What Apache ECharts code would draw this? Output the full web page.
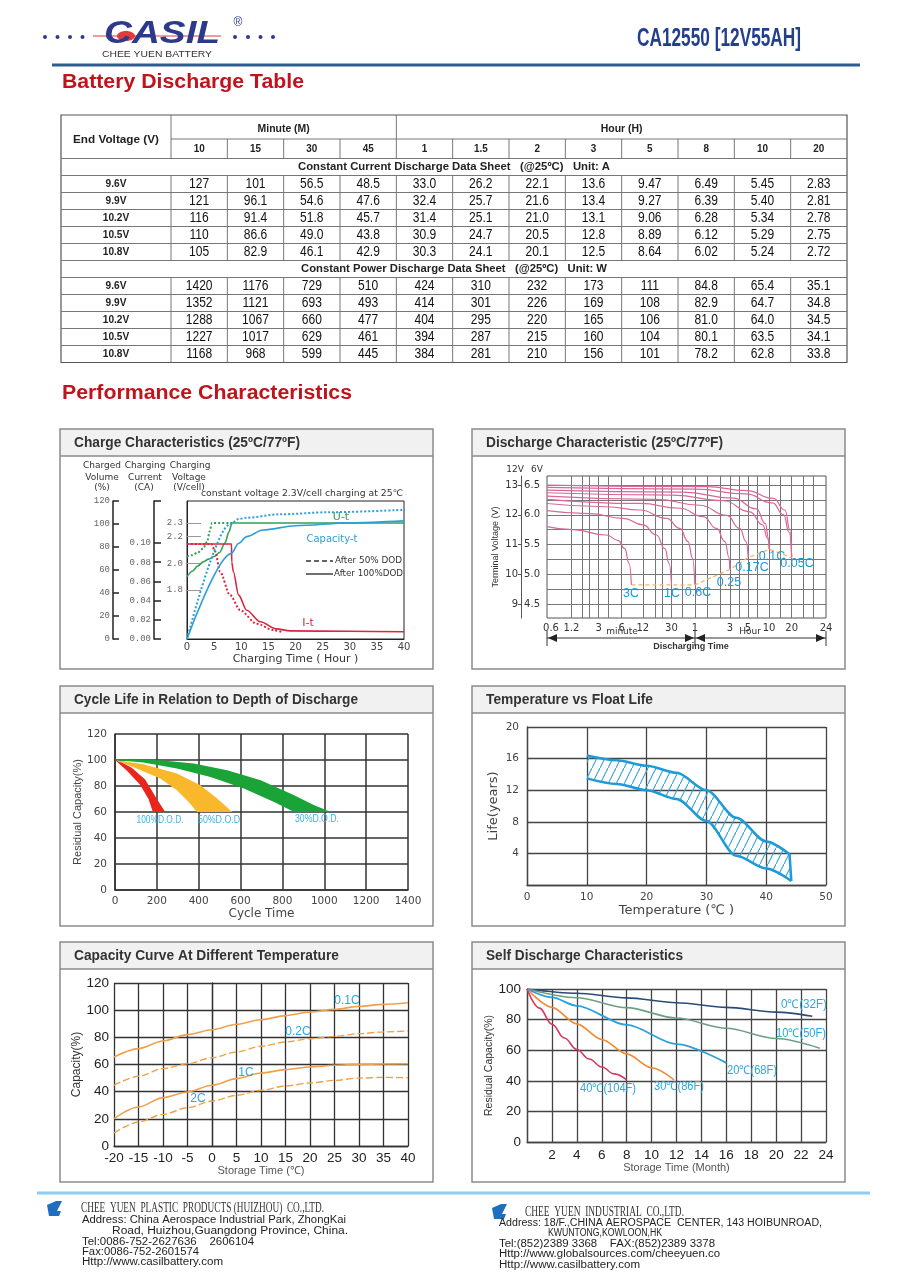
<!DOCTYPE html>
<html>
<head>
<meta charset="utf-8">
<script src="https://cdn.jsdelivr.net/npm/echarts@6/dist/echarts.min.js"></script>
<style>
  html, body { margin: 0; padding: 0; background: #fff; }
  #main { width: 905px; height: 1280px; }
</style>
</head>
<body>
<div id="main"></div>
<script>
// ---------- discharge table ----------
const endVoltages = ['9.6V', '9.9V', '10.2V', '10.5V', '10.8V'];
const minuteCols = ['10', '15', '30', '45'];
const hourCols = ['1', '1.5', '2', '3', '5', '8', '10', '20'];
const currentRows = [
  ['127', '101', '56.5', '48.5', '33.0', '26.2', '22.1', '13.6', '9.47', '6.49', '5.45', '2.83'],
  ['121', '96.1', '54.6', '47.6', '32.4', '25.7', '21.6', '13.4', '9.27', '6.39', '5.40', '2.81'],
  ['116', '91.4', '51.8', '45.7', '31.4', '25.1', '21.0', '13.1', '9.06', '6.28', '5.34', '2.78'],
  ['110', '86.6', '49.0', '43.8', '30.9', '24.7', '20.5', '12.8', '8.89', '6.12', '5.29', '2.75'],
  ['105', '82.9', '46.1', '42.9', '30.3', '24.1', '20.1', '12.5', '8.64', '6.02', '5.24', '2.72']
];
const powerRows = [
  ['1420', '1176', '729', '510', '424', '310', '232', '173', '111', '84.8', '65.4', '35.1'],
  ['1352', '1121', '693', '493', '414', '301', '226', '169', '108', '82.9', '64.7', '34.8'],
  ['1288', '1067', '660', '477', '404', '295', '220', '165', '106', '81.0', '64.0', '34.5'],
  ['1227', '1017', '629', '461', '394', '287', '215', '160', '104', '80.1', '63.5', '34.1'],
  ['1168', '968', '599', '445', '384', '281', '210', '156', '101', '78.2', '62.8', '33.8']
];

// ---------- charge characteristics (hour, value) ----------
const chgVoltTicks = [1.8, 2.0, 2.2, 2.3];
const chgCurrTicks = [0, 0.02, 0.04, 0.06, 0.08, 0.10];
const chargeVolt100 = [[0, 1.9], [1, 1.94], [2, 1.98], [3, 2.01], [4, 2.03], [5, 2.05], [6, 2.08], [7, 2.15], [7.7, 2.23], [8.3, 2.3], [40, 2.3]];
const chargeVolt50 = [[0, 2.05], [1, 2.06], [2, 2.08], [3, 2.11], [3.7, 2.16], [4.2, 2.24], [4.6, 2.3], [8.3, 2.3]];
const chargeCurr100 = [[0, 0.099], [8.2, 0.099], [8.25, 0.08], [8.55, 0.07], [9.5, 0.046], [11, 0.03], [13.5, 0.018], [16.5, 0.0105], [19, 0.0085], [30, 0.008], [40, 0.0075]];
const chargeCurr50 = [[0, 0.099], [4.5, 0.099], [5.2, 0.091], [6.1, 0.07], [7.9, 0.046], [9.8, 0.03], [12.8, 0.016], [15.9, 0.0094], [17.5, 0.0072]];
const chargeCap100 = [[0, 0], [8.2, 74.5], [9.5, 83], [11, 89], [14, 94.8], [20, 98.5], [30, 101], [40, 102.7]];
const chargeCap50 = [[0, 0], [7.9, 99.7], [9.5, 104.3], [11, 105.5], [17, 108.4], [26, 110.2], [40, 112.3]];

// ---------- discharge characteristic (minutes on the sheet's pseudo-log axis, V per 6V) ----------
const dcTickAt = [0.6, 1.15, 2.75, 5.7, 11.2, 28, 59, 180, 322, 628, 1295, 3870];
const dcTickText = ['0.6', '1.2', '3', '6', '12', '30', '1', '3', '5', '10', '20', '24'];
const dcGridAt = [1.15, 1.6, 2, 2.75, 3.7, 5.7, 11.2, 16.5, 21, 28, 40, 59, 89, 131, 180, 247, 322, 425, 628, 887, 1295, 1854, 2560];
const dc3C = [[0.528, 5.8], [1.21, 5.75], [3.51, 5.66], [5.1, 5.57], [6.31, 5.43], [7.25, 5.18], [7.8, 4.82]];
const dc1C = [[0.528, 6.07], [2.06, 6.02], [5.98, 5.94], [11.3, 5.83], [17.3, 5.66], [22.7, 5.43], [26, 5.18], [28, 4.82]];
const dc06C = [[0.528, 6.19], [3.51, 6.135], [10.2, 6.08], [23.9, 5.94], [36.6, 5.77], [47.5, 5.55], [54.8, 5.27], [59, 4.82]];
const dc025C = [[0.528, 6.26], [10.2, 6.19], [36.6, 6.11], [77, 5.97], [118, 5.77], [154, 5.55], [175, 5.29], [180, 5.08]];
const dc017C = [[0.528, 6.315], [17.3, 6.26], [69, 6.16], [162.6, 5.99], [248, 5.77], [301, 5.55], [324, 5.28]];
const dc01C = [[0.528, 6.37], [29.5, 6.33], [146, 6.236], [342, 6.05], [513, 5.83], [601, 5.6], [634, 5.42]];
const dc01Cb = [[0.528, 6.416], [40, 6.38], [200, 6.28], [420, 6.1], [560, 5.85], [620, 5.6], [634, 5.42]];
const dc005C = [[0.528, 6.5], [86, 6.472], [308, 6.405], [719, 6.275], [1045, 6.08], [1228, 5.74], [1295, 5.28]];
const dc005Cb = [[0.528, 6.46], [60, 6.43], [300, 6.35], [700, 6.2], [1000, 6.0], [1200, 5.7], [1295, 5.28]];
const dcCutoff = [[7.8, 4.82], [59, 4.82], [180, 5.08], [324, 5.28], [634, 5.42], [1295, 5.28]];

// ---------- cycle life bands (cycles, %) ----------
const cyc100Outer = [[0, 100], [40, 97.5], [80, 94], [144, 85], [200, 70], [240, 60]];
const cyc100Inner = [[0, 100], [56, 92], [120, 81], [160, 70], [181, 60]];
const cyc50Outer = [[0, 100], [136, 96.8], [296, 89.6], [408, 80.6], [488, 70.3], [560, 60]];
const cyc50Inner = [[0, 100], [104, 93.5], [216, 85.8], [296, 76.7], [352, 67.7], [392, 60]];
const cyc30Outer = [[0, 100.5], [216, 99.9], [376, 97.3], [536, 92.2], [696, 84.5], [856, 72.9], [952, 65.2], [1032, 60]];
const cyc30Inner = [[0, 100], [136, 98.1], [296, 93.5], [456, 87], [616, 78], [760, 67.7], [856, 60]];

// ---------- float life band (degC, years) ----------
const flUpper = [[10, 16.4], [15, 15.8], [20, 15.1], [25, 14.2], [30, 12], [35, 8.5], [40, 5.5], [43.9, 3.9]];
const flLower = [[10, 13.5], [15, 12.8], [20, 12], [25, 10.9], [30, 8.1], [35, 3.7], [40, 2.1], [44.2, 0.5]];

// ---------- capacity vs temperature ----------
const tempX = [-20, -15, -10, -5, 0, 5, 10, 15, 20, 25, 30, 35, 40];
const cap01C = [65.5, 71.7, 77.3, 82, 85.6, 89.6, 93, 96, 98.6, 100.6, 102.8, 104.3, 105.5];
const cap02C = [44.7, 51.3, 57, 60.6, 65, 69.2, 73.4, 76.6, 79, 80.7, 82.7, 84, 84.7];
const cap1C = [20.1, 28.7, 35.6, 39.8, 44.7, 49.6, 53.7, 56.2, 58.2, 59.4, 60.1, 60.4, 60.5];
const cap2C = [9.6, 17.7, 23.3, 28.2, 33.1, 37.3, 41, 44.2, 46.4, 48.3, 50, 50.5, 50.3];

// ---------- self discharge (month, %) ----------
const sd0 = [[0, 100], [4, 97.2], [8, 94.2], [12, 91], [16, 88], [20, 84.9], [22.9, 82.2]];
const sd10 = [[0, 100], [4, 94.3], [8, 87.8], [12, 81], [16, 74.3], [20, 67.6], [23.5, 61.3]];
const sd20 = [[0, 100], [2, 94.5], [4, 89], [8, 76.5], [12, 64], [16, 51.7]];
const sd30 = [[0, 100], [2, 88], [4, 77.2], [6, 67], [8, 57.6], [10, 48.5], [11.8, 40.6]];
const sd40 = [[0, 100], [1, 87.5], [2, 77], [3, 68], [4, 60.5], [5, 54.2], [6, 49], [7, 44.5], [8, 40.6]];

const lg = v => Math.log10(v);
const FS = '"Liberation Sans"';
const DJ = 'DejaVu Sans';

// ---------- helpers for the page decoration ----------
const graphics = [];
const mctx = document.createElement('canvas').getContext('2d');
function fit(s, font, w) { mctx.font = font; return w / mctx.measureText(s).width; }
function T(x, y, s, font, color, align, opt) {
  opt = opt || {};
  const el = {
    type: 'text', x: x, y: y, silent: true, z: 10,
    style: { text: s, font: font, fill: color, align: align || 'left', textAlign: align || 'left',
             verticalAlign: 'middle', textVerticalAlign: 'middle' }
  };
  if (opt.w) el.scaleX = fit(s, font, opt.w);
  if (opt.sx) el.scaleX = opt.sx;
  if (opt.rot) el.rotation = opt.rot;
  graphics.push(el);
}
function L(x1, y1, x2, y2, color, w, dash) {
  graphics.push({ type: 'line', silent: true, z: 10, shape: { x1, y1, x2, y2 },
    style: { stroke: color, lineWidth: w || 1, lineDash: dash || null } });
}
function R(x, y, w, h, fill, stroke, lw) {
  graphics.push({ type: 'rect', silent: true, z: 1, shape: { x, y, width: w, height: h },
    style: { fill: fill || 'none', stroke: stroke || 'none', lineWidth: lw || 1 } });
}
function P(pts, fill) {
  graphics.push({ type: 'polygon', silent: true, z: 10, shape: { points: pts }, style: { fill: fill } });
}
function C(cx, cy, r, fill) {
  graphics.push({ type: 'circle', silent: true, z: 10, shape: { cx, cy, r }, style: { fill: fill } });
}

// ---------- header ----------
[45, 57.5, 70, 82.5, 235, 248, 260.5, 273].forEach(x => C(x, 37, 2, '#2d3a8c'));
L(93, 36, 221, 36, '#e23b3b', 1.2);
graphics.push({ type: 'ellipse', silent: true, z: 10, shape: { cx: 126, cy: 36, rx: 9, ry: 5 }, style: { fill: '#e23b3b' } });
T(104, 34, 'CASIL', 'italic bold 32px ' + FS, '#2d3a8c', 'left', { w: 116 });
T(238, 23, '®', '12px ' + FS, '#2d3a8c', 'center');
T(157, 55, 'CHEE YUEN BATTERY', '9px ' + FS, '#333', 'center', { w: 110 });
T(719, 39, 'CA12550 [12V55AH]', 'bold 26px ' + FS, '#23408e', 'center', { w: 164 });
L(52, 65, 860, 65, '#2f5c8f', 3);

T(62, 82, 'Battery Discharge Table', 'bold 20px ' + FS, '#c0141c', 'left', { w: 242 });
T(62, 393, 'Performance Characteristics', 'bold 20px ' + FS, '#c0141c', 'left', { w: 290 });

// ---------- table ----------
const tL = 61, tR = 847, tTop = 115, labR = 171, colW = (tR - labR) / 12;
const hY1 = 139, hY2 = 158.5, rowH = 17;
const rowTop = i => hY2 + rowH * i;
const tBot = rowTop(12);
R(tL, tTop, tR - tL, tBot - tTop, 'none', '#555', 1.2);
L(labR, hY1, tR, hY1, '#777', 1);
for (let i = 0; i <= 11; i++) L(tL, rowTop(i), tR, rowTop(i), '#777', 1);
[[tTop, hY2], [rowTop(1), rowTop(6)], [rowTop(7), tBot]].forEach(seg => L(labR, seg[0], labR, seg[1], '#777', 1));
for (let k = 1; k < 12; k++) {
  const x = labR + k * colW;
  L(x, k === 4 ? tTop : hY1, x, hY2, '#777', 1);
  L(x, rowTop(1), x, rowTop(6), '#777', 1);
  L(x, rowTop(7), x, tBot, '#777', 1);
}
T((tL + labR) / 2, 140, 'End Voltage (V)', 'bold 11px ' + FS, '#222', 'center', { w: 86 });
T(labR + 2 * colW, 129, 'Minute (M)', 'bold 11px ' + FS, '#222', 'center', { sx: 0.95 });
T(labR + 8 * colW, 129, 'Hour (H)', 'bold 11px ' + FS, '#222', 'center', { sx: 0.95 });
minuteCols.concat(hourCols).forEach((c, k) => T(labR + (k + 0.5) * colW, 149, c, 'bold 11px ' + FS, '#222', 'center', { sx: 0.9 }));
T((tL + tR) / 2, rowTop(0) + 8.5, 'Constant Current Discharge Data Sheet   (@25ºC)   Unit: A', 'bold 11px ' + FS, '#222', 'center', { w: 312 });
T((tL + tR) / 2, rowTop(6) + 8.5, 'Constant Power Discharge Data Sheet   (@25ºC)   Unit: W', 'bold 11px ' + FS, '#222', 'center', { w: 306 });
[[currentRows, 1], [powerRows, 7]].forEach(([rows, start]) => {
  rows.forEach((row, r) => {
    const cy = rowTop(start + r) + 8.5;
    T((tL + labR) / 2, cy, endVoltages[r], 'bold 11px ' + FS, '#222', 'center', { sx: 0.92 });
    row.forEach((v, k) => T(labR + (k + 0.5) * colW, cy + 0.5, v, '14px ' + FS, '#111', 'center', { sx: 0.86 }));
  });
});

// ---------- panels ----------
const panels = [
  [60, 429, 'Charge Characteristics (25ºC/77ºF)', 226],
  [472, 429, 'Discharge Characteristic (25ºC/77ºF)', 237],
  [60, 686, 'Cycle Life in Relation to Depth of Discharge', 284],
  [472, 686, 'Temperature vs Float Life', 167],
  [60, 942, 'Capacity Curve At Different Temperature', 265],
  [472, 942, 'Self Discharge Characteristics', 197]
];
panels.forEach(([x, y, title, w]) => {
  R(x, y, 373, 27, '#f1f1f1', 'none');
  L(x, y + 27, x + 373, y + 27, '#8a8a8a', 1.5);
  R(x, y, 373, 240, 'none', '#8a8a8a', 1.5);
  T(x + 14, y + 14, title, 'bold 14px ' + FS, '#333', 'left', { w: w });
});

// charge chart decorations
const hf = '9px "' + DJ + '"';
T(102, 466, 'Charged', hf, '#333', 'center'); T(102, 478, 'Volume', hf, '#333', 'center'); T(102, 488, '(%)', hf, '#333', 'center');
T(145, 466, 'Charging', hf, '#333', 'center'); T(145, 478, 'Current', hf, '#333', 'center'); T(144, 488, '(CA)', hf, '#333', 'center');
T(190, 466, 'Charging', hf, '#333', 'center'); T(189, 478, 'Voltage', hf, '#333', 'center'); T(189, 488, '(V/cell)', hf, '#333', 'center');
T(201, 494, 'constant voltage 2.3V/cell charging at 25℃', hf, '#333', 'left', { w: 202 });
L(306, 561, 333, 561, '#333', 1.4, [5, 3]);
T(335, 561, 'After 50% DOD', hf, '#333', 'left', { w: 67 });
L(306, 574, 333, 574, '#333', 1.4);
T(334, 574, 'After 100%DOD', hf, '#333', 'left', { w: 69 });
T(341, 517, 'U-t', '11px "' + DJ + '"', '#35a055', 'center');
T(332, 539, 'Capacity-t', '10px "' + DJ + '"', '#2b9fd6', 'center');
T(308, 623, 'I-t', '11px "' + DJ + '"', '#d9283e', 'center');

// discharge chart decorations
T(515, 470, '12V', '9px "' + DJ + '"', '#333', 'center');
T(537, 470, '6V', '9px "' + DJ + '"', '#333', 'center');
L(547, 638, 826, 638, '#333', 1.2);
[547, 695, 826].forEach(x => L(x, 631, x, 646, '#333', 1));
P([[548, 638], [557, 634], [557, 642]], '#222');
P([[694, 638], [685, 634], [685, 642]], '#222');
P([[696, 638], [705, 634], [705, 642]], '#222');
P([[825, 638], [816, 634], [816, 642]], '#222');
T(622, 632, 'minute', '9px "' + DJ + '"', '#333', 'center');
T(750, 632, 'Hour', '9px "' + DJ + '"', '#333', 'center');
T(691, 647, 'Discharging Time', 'bold 9px ' + FS, '#333', 'center');
const dcLab = '12.5px ' + FS, blue = '#1f9ad8';
T(631, 594, '3C', dcLab, blue, 'center'); T(672, 594, '1C', dcLab, blue, 'center');
T(698, 593, '0.6C', dcLab, blue, 'center'); T(729, 583, '0.25', dcLab, blue, 'center');
T(752, 568, '0.17C', dcLab, blue, 'center'); T(772, 557, '0.1C', dcLab, blue, 'center');
T(797, 564, '0.05C', dcLab, blue, 'center');

// cycle life labels
const cyLab = '10px ' + FS, cyBlue = '#3db3e6';
T(160, 820, '100%D.O.D.', cyLab, cyBlue, 'center', { w: 47 });
T(219, 820, '50%D.O.D', cyLab, cyBlue, 'center', { w: 42 });
T(317, 819, '30%D.O.D.', cyLab, cyBlue, 'center', { w: 44 });

// capacity labels
const cpLab = '12px ' + FS, cpBlue = '#2aa8e0';
T(347, 1001, '0.1C', cpLab, cpBlue, 'center'); T(298, 1032, '0.2C', cpLab, cpBlue, 'center');
T(246, 1073, '1C', cpLab, cpBlue, 'center'); T(198, 1099, '2C', cpLab, cpBlue, 'center');

// self discharge labels
T(804, 1005, '0℃(32F)', cpLab, cpBlue, 'center', { w: 46 });
T(801, 1034, '10℃(50F)', cpLab, cpBlue, 'center', { w: 50 });
T(752, 1071, '20℃(68F)', cpLab, cpBlue, 'center', { w: 50 });
T(679, 1087, '30℃(86F)', cpLab, cpBlue, 'center', { w: 50 });
T(608, 1089, '40℃(104F)', cpLab, cpBlue, 'center', { w: 56 });

// ---------- footer ----------
L(37, 1193, 870, 1193, '#8ecdf0', 3);
P([[47, 1205], [56, 1201], [62, 1201], [57, 1211], [61, 1211], [59, 1216], [49, 1216]], '#1f6fc0');
P([[492, 1208], [501, 1204], [507, 1204], [502, 1214], [506, 1214], [504, 1219], [494, 1219]], '#1f6fc0');
const ser = '14px "Liberation Serif"', adr = '10px ' + FS;
T(81, 1208, 'CHEE  YUEN  PLASTIC  PRODUCTS (HUIZHOU)  CO.,LTD.', ser, '#333', 'left', { w: 243 });
T(82, 1220, 'Address: China Aerospace Industrial Park, ZhongKai', adr, '#222', 'left', { w: 264 });
T(112, 1231, 'Road, Huizhou,Guangdong Province, China.', adr, '#222', 'left', { w: 236 });
T(82, 1242, 'Tel:0086-752-2627636    2606104', adr, '#222', 'left', { w: 172 });
T(82, 1252, 'Fax:0086-752-2601574', adr, '#222', 'left', { w: 117 });
T(82, 1262, 'Http://www.casilbattery.com', adr, '#222', 'left', { w: 141 });
T(525, 1212, 'CHEE  YUEN  INDUSTRIAL  CO.,LTD.', ser, '#333', 'left', { w: 159 });
T(499, 1223, 'Address: 18/F.,CHINA AEROSPACE  CENTER, 143 HOIBUNROAD,', adr, '#222', 'left', { w: 323 });
T(548, 1233, 'KWUNTONG,KOWLOON,HK', adr, '#222', 'left', { w: 114 });
T(499, 1244, 'Tel:(852)2389 3368    FAX:(852)2389 3378', adr, '#222', 'left', { w: 216 });
T(499, 1254, 'Http://www.globalsources.com/cheeyuen.co', adr, '#222', 'left', { w: 221 });
T(499, 1265, 'Http://www.casilbattery.com', adr, '#222', 'left', { w: 141 });

// ---------- hatch pattern for the float life band ----------
const hatch = document.createElement('canvas');
hatch.width = 8; hatch.height = 16;
const hc = hatch.getContext('2d');
hc.strokeStyle = '#3aa6dc'; hc.lineWidth = 1.1;
hc.beginPath(); hc.moveTo(-0.5, 17); hc.lineTo(8.5, -1); hc.stroke();

function dcLabel(v) {
  for (let i = 0; i < dcTickAt.length; i++) if (Math.abs(lg(dcTickAt[i]) - v) < 1e-6) return dcTickText[i];
  return '';
}
function lineS(xi, yi, data, color, w, type, smooth) {
  return { type: 'line', xAxisIndex: xi, yAxisIndex: yi, data: data, symbol: 'none', silent: true,
    smooth: smooth === undefined ? 0.3 : smooth, smoothMonotone: 'x',
    lineStyle: { color: color, width: w, type: type || 'solid' }, z: 3 };
}
function band(xi, yi, outer, inner, fill) {
  const poly = outer.concat(inner.slice().reverse());
  return { type: 'custom', xAxisIndex: xi, yAxisIndex: yi, data: [[0, 0]], silent: true, z: 2,
    renderItem: (params, api) => ({ type: 'polygon', shape: { points: poly.map(p => api.coord(p)) }, style: { fill: fill } }) };
}
const lbl = (size, color, fam) => ({ fontFamily: fam || DJ, fontSize: size, color: color || '#333' });
const darkGrid = (c, w) => ({ show: true, lineStyle: { color: c, width: w } });

const option = {
  animation: false,
  backgroundColor: '#fff',
  textStyle: { fontFamily: 'Liberation Sans' },
  grid: [
    { left: 187, top: 501, width: 217, height: 138, show: true, borderColor: '#222', borderWidth: 1 },
    { left: 547, top: 476, width: 279, height: 142, show: true, borderColor: '#555', borderWidth: 1 },
    { left: 115, top: 734, width: 293, height: 156 },
    { left: 527, top: 727, width: 299, height: 158 },
    { left: 114, top: 983, width: 294, height: 163 },
    { left: 527, top: 989, width: 299, height: 153 }
  ],
  xAxis: [
    { gridIndex: 0, type: 'value', min: 0, max: 40, interval: 5,
      axisLine: { lineStyle: { color: '#222' } }, axisTick: { show: false }, splitLine: { show: false },
      axisLabel: Object.assign(lbl(10, '#444'), { margin: 3 }),
      name: 'Charging Time ( Hour )', nameLocation: 'middle', nameGap: 15, nameTextStyle: lbl(11) },
    { gridIndex: 1, type: 'value', min: lg(0.528), max: lg(3870),
      axisLine: { show: false }, axisTick: { show: false, customValues: dcGridAt.map(lg) },
      splitLine: darkGrid('#767676', 1),
      axisLabel: Object.assign(lbl(10), { customValues: dcTickAt.map(lg), formatter: dcLabel, margin: 5 }) },
    { gridIndex: 2, type: 'value', min: 0, max: 1400, interval: 200,
      axisLine: { lineStyle: { color: '#333', width: 1.5 } }, axisTick: { show: false }, splitLine: darkGrid('#333', 1.5),
      axisLabel: Object.assign(lbl(10.5, '#444'), { margin: 6, formatter: v => String(v) }),
      name: 'Cycle Time', nameLocation: 'middle', nameGap: 12, nameTextStyle: lbl(12, '#444') },
    { gridIndex: 3, type: 'value', min: 0, max: 50, interval: 10,
      axisLine: { lineStyle: { color: '#444', width: 1.3 } }, axisTick: { show: false }, splitLine: darkGrid('#444', 1.3),
      axisLabel: Object.assign(lbl(10.5, '#444'), { margin: 7 }),
      name: 'Temperature (℃ )', nameLocation: 'middle', nameGap: 16, nameTextStyle: lbl(13, '#444') },
    { gridIndex: 4, type: 'value', min: -20, max: 40, interval: 5,
      axisLine: { lineStyle: { color: '#333', width: 1.3 } }, axisTick: { show: false }, splitLine: darkGrid('#333', 1.3),
      axisLabel: Object.assign(lbl(13.5, '#222', 'Liberation Sans'), { margin: 5 }),
      name: 'Storage Time (℃)', nameLocation: 'middle', nameGap: 19, nameTextStyle: lbl(11, '#555', 'Liberation Sans') },
    { gridIndex: 5, type: 'value', min: 0, max: 24, interval: 2,
      axisLine: { lineStyle: { color: '#444', width: 1.3 } }, axisTick: { show: false }, splitLine: darkGrid('#444', 1.3),
      axisLabel: Object.assign(lbl(13.5, '#222', 'Liberation Sans'), { margin: 6, formatter: v => (v === 0 ? '' : String(v)) }),
      name: 'Storage Time (Month)', nameLocation: 'middle', nameGap: 20, nameTextStyle: lbl(11, '#555', 'Liberation Sans') }
  ],
  yAxis: [
    { gridIndex: 0, type: 'value', min: 1.434, max: 2.464, position: 'left',
      axisLine: { show: true, lineStyle: { color: '#222' } },
      axisTick: { show: true, inside: true, length: 14, customValues: chgVoltTicks, lineStyle: { color: '#999' } },
      axisLabel: Object.assign(lbl(9, '#666', 'Liberation Mono'), { customValues: chgVoltTicks, formatter: v => v.toFixed(1), margin: 4 }),
      splitLine: { show: false } },
    { gridIndex: 0, type: 'value', min: 0, max: 0.14375, position: 'left', offset: 33,
      axisLine: { show: true, lineStyle: { color: '#222', width: 1.5 } },
      axisTick: { show: true, inside: true, length: 7, customValues: chgCurrTicks.concat([0.14375]), lineStyle: { color: '#222', width: 1.5 } },
      axisLabel: Object.assign(lbl(9, '#666', 'Liberation Mono'), { customValues: chgCurrTicks, formatter: v => v.toFixed(2), margin: 3 }),
      splitLine: { show: false } },
    { gridIndex: 0, type: 'value', min: 0, max: 120, interval: 20, position: 'left', offset: 74,
      axisLine: { show: true, lineStyle: { color: '#222', width: 1.5 } },
      axisTick: { show: true, inside: true, length: 6, lineStyle: { color: '#222', width: 1.5 } },
      axisLabel: Object.assign(lbl(9, '#666', 'Liberation Mono'), { margin: 3 }),
      splitLine: { show: false } },
    { gridIndex: 1, type: 'value', min: 4.264, max: 6.652,
      axisLine: { show: false },
      axisTick: { show: false, customValues: [4.5, 4.75, 5, 5.25, 5.5, 5.75, 6, 6.25, 6.5] },
      splitLine: darkGrid('#767676', 1),
      axisLabel: Object.assign(lbl(10), { customValues: [4.5, 5, 5.5, 6, 6.5], formatter: v => v.toFixed(1), margin: 7 }) },
    { gridIndex: 1, type: 'value', min: 8.528, max: 13.304, position: 'left', offset: 26,
      axisLine: { show: true, lineStyle: { color: '#555' } },
      axisTick: { show: true, length: 3, customValues: [9, 10, 11, 12, 13], lineStyle: { color: '#555' } },
      axisLabel: Object.assign(lbl(10), { customValues: [9, 10, 11, 12, 13], margin: 3 }),
      splitLine: { show: false },
      name: 'Terminal Voltage (V)', nameLocation: 'middle', nameGap: 21, nameTextStyle: lbl(9, '#333', 'Liberation Sans') },
    { gridIndex: 2, type: 'value', min: 0, max: 120, interval: 20,
      axisLine: { lineStyle: { color: '#333', width: 1.5 } }, axisTick: { show: false }, splitLine: darkGrid('#333', 1.5),
      axisLabel: Object.assign(lbl(10.5, '#444'), { margin: 8 }),
      name: 'Residual Capacity(%)', nameLocation: 'middle', nameGap: 30, nameTextStyle: lbl(11, '#444', 'Liberation Sans') },
    { gridIndex: 3, type: 'value', min: 0, max: 20, interval: 4,
      axisLine: { lineStyle: { color: '#444', width: 1.3 } }, axisTick: { show: false }, splitLine: darkGrid('#444', 1.3),
      axisLabel: Object.assign(lbl(10.5, '#444'), { margin: 8, formatter: v => (v === 0 ? '' : String(v)) }),
      name: 'Life(years)', nameLocation: 'middle', nameGap: 27, nameTextStyle: lbl(13, '#444') },
    { gridIndex: 4, type: 'value', min: 0, max: 120, interval: 20,
      axisLine: { lineStyle: { color: '#333', width: 1.3 } }, axisTick: { show: false }, splitLine: darkGrid('#333', 1.3),
      axisLabel: Object.assign(lbl(13.5, '#222', 'Liberation Sans'), { margin: 5 }),
      name: 'Capacity(%)', nameLocation: 'middle', nameGap: 23, nameTextStyle: lbl(12, '#333', 'Liberation Sans') },
    { gridIndex: 5, type: 'value', min: 0, max: 100, interval: 20,
      axisLine: { lineStyle: { color: '#444', width: 1.3 } }, axisTick: { show: false }, splitLine: darkGrid('#444', 1.3),
      axisLabel: Object.assign(lbl(13.5, '#222', 'Liberation Sans'), { margin: 6 }),
      name: 'Residual Capacity(%)', nameLocation: 'middle', nameGap: 30, nameTextStyle: lbl(10.5, '#333', 'Liberation Sans') }
  ],
  series: [
    // charge characteristics
    lineS(0, 0, chargeVolt100, '#35a055', 1.6),
    lineS(0, 0, chargeVolt50, '#35a055', 2, 'dotted'),
    lineS(0, 1, chargeCurr100, '#d9283e', 1.6),
    lineS(0, 1, chargeCurr50, '#d9283e', 2, 'dotted'),
    lineS(0, 2, chargeCap100, '#2b9fd6', 1.6),
    lineS(0, 2, chargeCap50, '#2b9fd6', 2, 'dotted'),
    // discharge characteristic
    ...[dc3C, dc1C, dc06C, dc025C, dc017C, dc01C, dc01Cb, dc005C, dc005Cb].map(d =>
      lineS(1, 3, d.map(p => [lg(p[0]), p[1]]), '#d8679a', 1.2, 'solid', 0.5)),
    lineS(1, 3, dcCutoff.map(p => [lg(p[0]), p[1]]), '#f2b36a', 1.3, [4, 3], 0),
    // cycle life
    band(2, 5, cyc100Outer, cyc100Inner, '#e8261c'),
    band(2, 5, cyc50Outer, cyc50Inner, '#f9b72c'),
    band(2, 5, cyc30Outer, cyc30Inner, '#1aa336'),
    // float life
    { type: 'custom', xAxisIndex: 3, yAxisIndex: 6, data: [[0, 0]], silent: true, z: 2,
      renderItem: (params, api) => ({ type: 'polygon',
        shape: { points: flUpper.concat(flLower.slice().reverse()).map(p => api.coord(p)) },
        style: { fill: { image: hatch, repeat: 'repeat' } } }) },
    lineS(3, 6, flUpper, '#1e9ad6', 2.5, 'solid', 0.3),
    lineS(3, 6, flLower, '#1e9ad6', 2.5, 'solid', 0.3),
    lineS(3, 6, [flUpper[flUpper.length - 1], flLower[flLower.length - 1]], '#1e9ad6', 2.5, 'solid', 0),
    // capacity vs temperature
    lineS(4, 7, tempX.map((t, i) => [t, cap01C[i]]), '#f0a04a', 1.6),
    lineS(4, 7, tempX.map((t, i) => [t, cap02C[i]]), '#f0a04a', 1.4, [7, 3]),
    lineS(4, 7, tempX.map((t, i) => [t, cap1C[i]]), '#f0a04a', 1.6),
    lineS(4, 7, tempX.map((t, i) => [t, cap2C[i]]), '#f0a04a', 1.4, [7, 3]),
    // self discharge
    lineS(5, 8, sd0, '#2b4a78', 1.6),
    lineS(5, 8, sd10, '#6e9e84', 1.6),
    lineS(5, 8, sd20, '#2aa0dc', 1.8),
    lineS(5, 8, sd30, '#f08a34', 1.6),
    lineS(5, 8, sd40, '#d8365e', 1.6, 'solid', 0.4)
  ],
  graphic: graphics
};

const chart = echarts.init(document.getElementById('main'));
chart.setOption(option);
</script>
</body>
</html>
